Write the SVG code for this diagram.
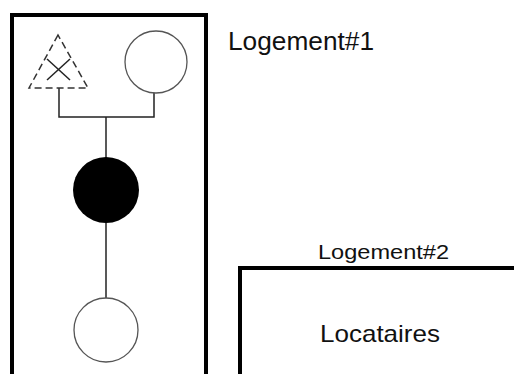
<svg xmlns="http://www.w3.org/2000/svg" width="514" height="374" viewBox="0 0 514 374">
<style>
.box{fill:none;stroke:#000;stroke-width:4}
.sym{fill:#fff;stroke:#555;stroke-width:1.3}
.dash{fill:none;stroke:#333;stroke-width:1.5;stroke-dasharray:7 4}
.link{fill:none;stroke:#222;stroke-width:1.5}
.lbl{font-family:"Liberation Sans",Arial,sans-serif;fill:#111}
</style>
<rect width="514" height="374" fill="#fff"/>
<g id="logement1">
<rect class="box" x="12" y="15" width="194" height="380"/>
<text class="lbl" x="228" y="50" font-size="25" textLength="146" lengthAdjust="spacingAndGlyphs">Logement#1</text>
</g>
<g id="logement2">
<rect class="box" x="240" y="268" width="300" height="140"/>
<text class="lbl" x="318" y="259" font-size="21" textLength="131" lengthAdjust="spacingAndGlyphs">Logement#2</text>
<text class="lbl" x="320" y="342" font-size="24" textLength="120" lengthAdjust="spacingAndGlyphs">Locataires</text>
</g>
<g id="connectors">
<polyline class="link" points="59,88 59,117 154,117 154,93"/>
<line class="link" x1="106" y1="117" x2="106" y2="158"/>
<line class="link" x1="106" y1="222" x2="106" y2="299"/>
</g>
<g id="deceased-male">
<polygon class="dash" points="58,35 29,88 88,88"/>
<line class="link" x1="47" y1="59" x2="70" y2="80"/>
<line class="link" x1="70" y1="59" x2="47" y2="80"/>
</g>
<g id="female-top">
<circle class="sym" cx="156" cy="62" r="31"/>
</g>
<g id="index-female">
<circle cx="106" cy="190" r="33" fill="#000"/>
</g>
<g id="female-bottom">
<circle class="sym" cx="106" cy="330" r="32"/>
</g>
</svg>
